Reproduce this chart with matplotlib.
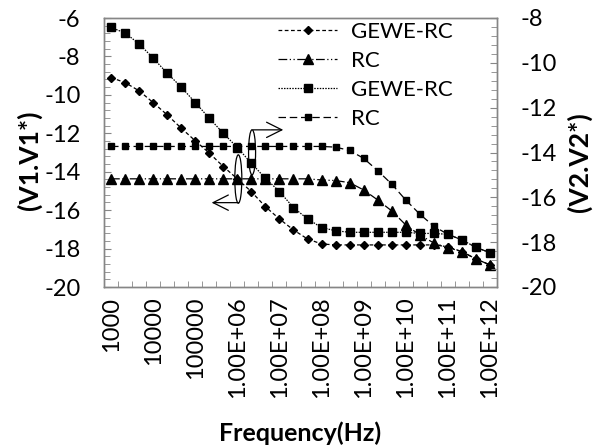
import matplotlib
matplotlib.use('Agg')
import matplotlib.pyplot as plt
from matplotlib.patches import Ellipse
from matplotlib.ticker import MultipleLocator
import numpy as np

plt.rcParams['font.family'] = ['Lato', 'DejaVu Sans']
plt.rcParams['axes.unicode_minus'] = False

# frequency categories (3 per decade), only every 3rd one gets a label
freq_cats = ['1000', '2154', '4642', '10000', '21544', '46416', '100000', '215443', '464159',
             '1.00E+06', '2.15E+06', '4.64E+06', '1.00E+07', '2.15E+07', '4.64E+07',
             '1.00E+08', '2.15E+08', '4.64E+08', '1.00E+09', '2.15E+09', '4.64E+09',
             '1.00E+10', '2.15E+10', '4.64E+10', '1.00E+11', '2.15E+11', '4.64E+11', '1.00E+12']

# left axis (V1.V1*)
gewe_v1 = [-9.10, -9.36, -9.79, -10.40, -11.04, -11.73, -12.39, -13.03, -13.73, -14.37,
           -15.04, -15.82, -16.46, -17.03, -17.50, -17.76, -17.81, -17.81, -17.81, -17.81,
           -17.81, -17.81, -17.81, -17.81, -17.90, -18.16, -18.54, -18.85]
rc_v1 = [-14.37, -14.37, -14.37, -14.37, -14.37, -14.37, -14.37, -14.37, -14.37, -14.37,
         -14.37, -14.37, -14.37, -14.37, -14.37, -14.43, -14.46, -14.57, -14.95, -15.47,
         -16.04, -16.77, -17.29, -17.71, -17.95, -18.16, -18.54, -18.85]

# right axis (V2.V2*)
gewe_v2 = [-8.42, -8.67, -9.15, -9.79, -10.46, -11.08, -11.77, -12.47, -13.14, -13.78,
           -14.48, -15.15, -15.74, -16.46, -16.96, -17.35, -17.49, -17.56, -17.56, -17.56,
           -17.56, -17.56, -17.61, -17.61, -17.65, -17.90, -18.23, -18.47]
rc_v2 = [-13.73, -13.73, -13.73, -13.73, -13.73, -13.73, -13.73, -13.73, -13.73, -13.73,
         -13.73, -13.73, -13.73, -13.73, -13.73, -13.73, -13.76, -13.91, -14.26, -14.81,
         -15.41, -16.12, -16.75, -17.29, -17.65, -17.90, -18.23, -18.47]

grey = '#868686'
fs = 17

fig = plt.figure(figsize=(5.93, 4.46), dpi=100)
ax = fig.add_axes([104 / 593, 1 - 287 / 446, (497 - 104) / 593, (287 - 18) / 446])
ax2 = ax.twinx()

x = np.arange(len(freq_cats))

l1, = ax.plot(x, gewe_v1, color='black', lw=0.9, dashes=(3, 2), marker='D', ms=4.5,
              label='GEWE-RC')
l2, = ax.plot(x, rc_v1, color='black', lw=0.9, dashes=(7, 2, 1, 2, 1, 2), marker='^', ms=6.5,
              label='RC')
l3, = ax2.plot(x, gewe_v2, color='black', lw=0.9, dashes=(1.2, 1), marker='s', ms=6,
               label='GEWE-RC')
l4, = ax2.plot(x, rc_v2, color='black', lw=0.9, dashes=(6, 3), marker='s', ms=3.8,
               label='RC')

ax.set_xlim(-0.5, len(freq_cats) - 0.5)
ax.set_ylim(-20, -6)
ax2.set_ylim(-20, -8)

ax.set_xticks(x[::3])
ax.set_xticklabels(freq_cats[::3], rotation=90, fontsize=fs)
ax.set_xticks(np.arange(-0.5, len(freq_cats), 1), minor=True)
ax.tick_params(axis='x', which='major', length=0, pad=7)
ax.tick_params(axis='x', which='minor', direction='in', length=4, color=grey)

for a in (ax, ax2):
    a.yaxis.set_major_locator(MultipleLocator(2))
    a.yaxis.set_minor_locator(MultipleLocator(0.4))
    a.tick_params(axis='y', which='major', direction='in', length=5, color=grey,
                  labelsize=fs, pad=17)
    a.tick_params(axis='y', which='minor', direction='in', length=4, color=grey)
    for s in a.spines.values():
        s.set_color(grey)
        s.set_linewidth(1)

# ellipses with arrows pointing to the axis each pair belongs to
ax.add_patch(Ellipse((9.07, -14.38), 0.5, 2.52, fill=False, lw=0.9, color='black'))
ax.annotate('', xy=(7.17, -15.61), xytext=(9.07, -15.61),
            arrowprops=dict(arrowstyle='->,head_length=1.1,head_width=0.55', lw=0.9,
                            color='black', shrinkA=0, shrinkB=0))
ax2.add_patch(Ellipse((10.05, -13.99), 0.5, 2.01, fill=False, lw=0.9, color='black'))
ax2.annotate('', xy=(12.27, -12.99), xytext=(10.13, -12.99),
             arrowprops=dict(arrowstyle='->,head_length=1.1,head_width=0.55', lw=0.9,
                             color='black', shrinkA=0, shrinkB=0))

ax2.legend(handles=[l1, l2, l3, l4], loc='upper right', bbox_to_anchor=(0.892, 0.993),
           frameon=False, fontsize=16, handlelength=2.65, handletextpad=0.6,
           labelspacing=0.4, borderaxespad=0, borderpad=0.1, numpoints=1)

fig.text(29 / 593, 1 - 160 / 446, '(V1.V1*)', rotation=90, ha='center', va='center',
         fontsize=19, fontweight='bold')
fig.text(579 / 593, 1 - 162 / 446, '(V2.V2*)', rotation=90, ha='center', va='center',
         fontsize=19, fontweight='bold')
fig.text(300 / 593, 1 - 433 / 446, 'Frequency(Hz)', ha='center', va='center',
         fontsize=18, fontweight='bold')

fig.savefig('out.png', dpi=100)
